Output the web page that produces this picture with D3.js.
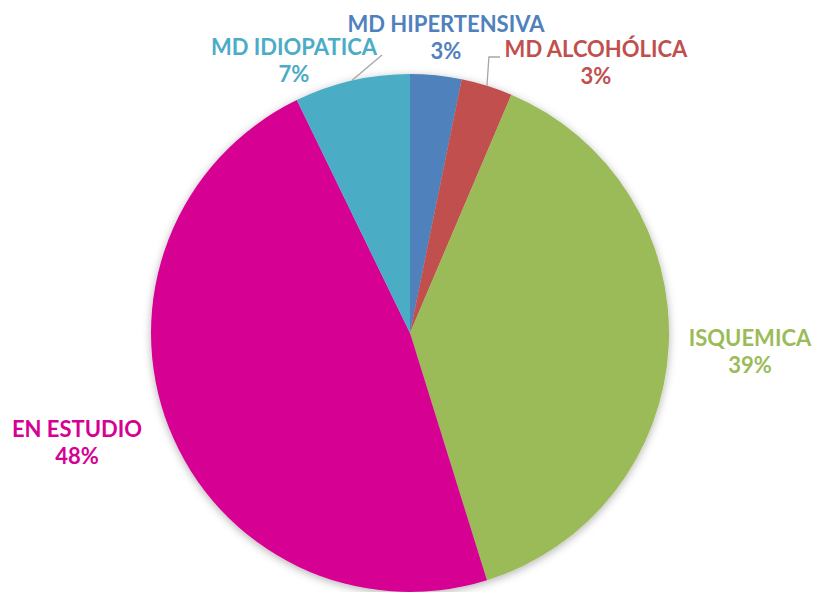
<!DOCTYPE html>
<html>
<head>
<meta charset="utf-8">
<script src="https://cdn.jsdelivr.net/npm/d3@7"></script>
<style>
  body { margin: 0; background: #fff; }
  svg { display: block; }
  text { font-family: Lato, "Open Sans", sans-serif; font-weight: 700; }
</style>
</head>
<body>
<div id="chart"></div>
<script>
// data
const categories = ["MD HIPERTENSIVA", "MD ALCOHÓLICA", "ISQUEMICA", "EN ESTUDIO", "MD IDIOPATICA"];
const values = [3.2, 3.2, 38.8, 47.6, 7.2];
const colors = ["#4F81BD", "#C0504D", "#9BBB59", "#D60093", "#4BACC6"];

// label anchors (centre of the first line's baseline) and whether a leader line is drawn
const labelPos = [
  { x: 446, y: 32, leader: false },
  { x: 596, y: 57, leader: true, side: "right" },
  { x: 750, y: 346, leader: false },
  { x: 77, y: 437, leader: false },
  { x: 294, y: 55, leader: true, side: "left" }
];

const W = 813, H = 592;
const cx = 410, cy = 333, R = 259;

const svg = d3.select("#chart").append("svg")
  .attr("width", W).attr("height", H);

const defs = svg.append("defs");
const f = defs.append("filter").attr("id", "shadow")
  .attr("x", "-10%").attr("y", "-10%").attr("width", "120%").attr("height", "120%");
f.append("feDropShadow")
  .attr("dx", 0).attr("dy", 2).attr("stdDeviation", 4)
  .attr("flood-color", "#000").attr("flood-opacity", 0.3);

const pie = d3.pie().sort(null).value(d => d);
const arcs = pie(values);
const arc = d3.arc().innerRadius(0).outerRadius(R);

const g = svg.append("g").attr("transform", `translate(${cx},${cy})`);
g.append("g").attr("filter", "url(#shadow)")
  .selectAll("path")
  .data(arcs)
  .enter()
  .append("path")
  .attr("d", arc)
  .attr("fill", (d, i) => colors[i]);

// leader lines from the slice edge to the label
arcs.forEach((d, i) => {
  const p = labelPos[i];
  if (!p.leader) return;
  const a = (d.startAngle + d.endAngle) / 2;
  const x0 = cx + R * Math.sin(a), y0 = cy - R * Math.cos(a);
  let pts;
  if (p.side === "right") {
    pts = [[x0, y0], [x0 + 2, p.y], [p.x - 96, p.y]];
  } else {
    pts = [[x0, y0], [p.x + 88, p.y]];
  }
  svg.append("path")
    .attr("d", d3.line()(pts))
    .attr("fill", "none")
    .attr("stroke", "#A6A6A6")
    .attr("stroke-width", 1.3);
});

// labels
arcs.forEach((d, i) => {
  const p = labelPos[i];
  const t = svg.append("text")
    .attr("x", p.x).attr("y", p.y)
    .attr("text-anchor", "middle")
    .attr("fill", colors[i])
    .attr("font-size", 22);
  t.append("tspan").attr("x", p.x).text(categories[i]);
  t.append("tspan").attr("x", p.x).attr("dy", 26.5)
    .text(Math.round(values[i]) + "%");
});
</script>
</body>
</html>
